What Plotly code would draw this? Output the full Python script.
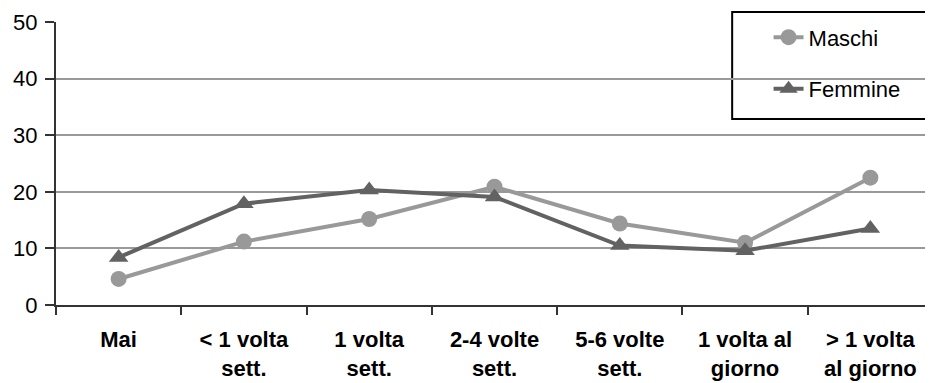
import plotly.graph_objects as go

categories = ["Mai", "< 1 volta<br>sett.", "1 volta<br>sett.", "2-4 volte<br>sett.",
              "5-6 volte<br>sett.", "1 volta al<br>giorno", "> 1 volta<br>al giorno"]
maschi = [4.6, 11.2, 15.2, 20.9, 14.4, 11.0, 22.5]
femmine = [8.4, 17.9, 20.3, 19.1, 10.5, 9.6, 13.5]
y_ticks = [0, 10, 20, 30, 40, 50]

FONT = "Liberation Sans, Arial, sans-serif"

fig = go.Figure()
fig.add_trace(go.Scatter(
    x=categories, y=maschi, name="Maschi", mode="lines+markers",
    line=dict(color="#999999", width=4),
    marker=dict(symbol="circle", size=16, color="#999999"),
    legendgroup="m"))
fig.add_trace(go.Scatter(
    x=categories, y=femmine, name="Femmine", mode="lines+markers",
    line=dict(color="#626262", width=4),
    marker=dict(symbol="triangle-up", size=17, color="#626262"),
    legendgroup="f"))

fig.update_layout(
    width=925, height=375,
    margin=dict(l=48, r=0, t=14, b=78, autoexpand=False),
    paper_bgcolor="white", plot_bgcolor="white",
    font=dict(family=FONT, color="black"),
    legend=dict(
        x=0.8125, y=1.02, xanchor="left", yanchor="top",
        bgcolor="rgba(0,0,0,0)", borderwidth=0,
        font=dict(size=22, family=FONT),
        traceorder="grouped", tracegroupgap=20,
    ),
    xaxis=dict(
        type="category", showgrid=False,
        showline=True, linecolor="#333333", linewidth=2,
        ticks="outside", tickson="boundaries", ticklen=8, tickwidth=2, tickcolor="#333333",
        tickfont=dict(size=22, family=FONT, color="black", weight="bold"),
        ticklabelstandoff=14,
        range=[-0.5, 6.5], automargin=False,
    ),
    yaxis=dict(
        range=[0, 50], tickvals=y_ticks,
        showgrid=True, gridcolor="#999999", gridwidth=1.5,
        showline=True, linecolor="#333333", linewidth=2,
        ticks="outside", ticklen=9, tickwidth=2, tickcolor="#333333",
        tickfont=dict(size=22, family=FONT, color="black"),
        ticklabelstandoff=3, automargin=False,
        zeroline=False,
    ),
    shapes=[dict(type="rect", xref="paper", yref="paper",
                 x0=0.771, x1=0.9955, y0=0.657, y1=1.035,
                 line=dict(color="black", width=2), fillcolor="white", layer="between")],
)

fig.write_html("out.html")
